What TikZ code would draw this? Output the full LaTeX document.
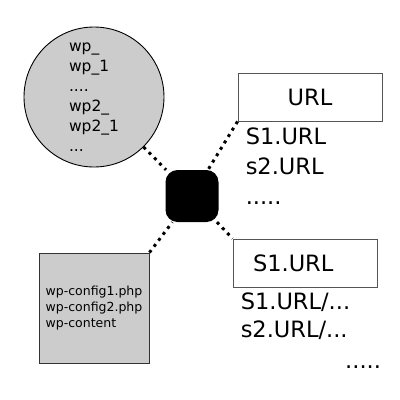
\documentclass[tikz,border=0pt]{standalone}
\usepackage{fontspec}
\usepackage{tikz}
\usepackage{xcolor}
\usetikzlibrary{positioning}
\setmainfont{DejaVu Sans}
\definecolor{storegray}{RGB}{204,204,204}
\definecolor{boxline}{RGB}{85,85,85}

\begin{document}
\begin{tikzpicture}[x=1pt, y=-1pt,
		store/.style={draw=black, fill=storegray, line width=0.9pt, align=left},
		urlbox/.style={draw=boxline, fill=white, line width=0.9pt,
			minimum width=144pt, minimum height=48pt, font=\fontsize{22.5}{27}\selectfont},
		listtext/.style={inner sep=0pt, align=left, font=\fontsize{22.5}{30}\selectfont},
		link/.style={line width=3pt, dash pattern=on 3pt off 4.5pt},
		node distance=6pt
	]
		\useasboundingbox (0,0) rectangle (400,400);
		\node[store, circle, minimum size=140pt, font=\fontsize{15.5}{20}\selectfont] (db) at (94,97)
			{wp\_\\wp\_1\\....\\wp2\_\\wp2\_1\\...};
		\node[fill=black, rounded corners=12pt, minimum width=53pt, minimum height=52pt] (hub) at (192,196) {};
		\node[urlbox] (url) at (310,97) {URL};
		\node[urlbox, text width=104pt, inner xsep=20pt, align=left] (site) at (305,263) {S1.URL};
		\node[store, draw=black!80, rectangle, minimum width=110pt, minimum height=110pt,
			font=\fontsize{12.5}{16}\selectfont] (cfg) at (94,308)
			{wp-config1.php\\wp-config2.php\\wp-content};
		\node[listtext, below right=6pt and 8pt of url.south west] (urllist)
			{S1.URL\\s2.URL\\.....};
		\node[listtext, below right=5pt and 8pt of site.south west, baseline] (sitelist)
			{S1.URL/...\\[-2pt]s2.URL/...};
		\node[listtext, anchor=base west] (moresites) at (345,368) {.....};

		\foreach \a/\b in {db/hub,url.south west/hub,hub/site.north west,cfg.north east/hub}
			\draw[link] (\a) -- (\b);
	\end{tikzpicture}
\end{document}
